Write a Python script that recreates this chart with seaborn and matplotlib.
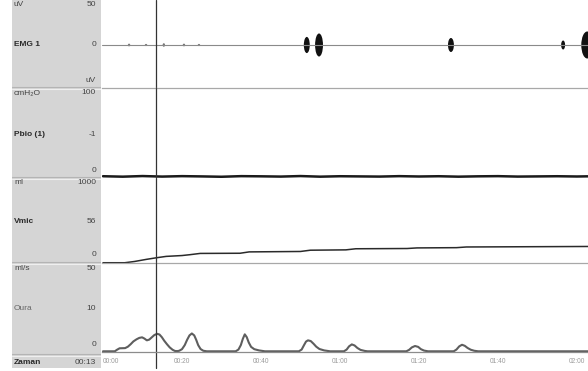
import matplotlib
matplotlib.use("Agg")
import matplotlib.pyplot as plt
from matplotlib.patches import Ellipse
import numpy as np
import seaborn as sns

# ---- recorded channels (time in seconds) ----
cursor_t = 13.4

emg_spike_t = [6.6, 10.9, 15.4, 20.5, 24.3]
emg_spike_amp = [1.5, 1.2, 2.0, 1.5, 1.2]
emg_burst_t = [51.6, 54.7, 88.1, 116.5, 122.6]
emg_burst_amp = [9.0, 12.8, 7.8, 5.0, 15.0]
emg_burst_w = [1.5, 2.0, 1.5, 1.0, 3.0]

pbio_t = [0, 5, 10, 15, 20, 25, 30, 35, 40, 45, 50, 55, 60, 65, 70, 75,
          80, 85, 90, 95, 100, 105, 110, 115, 120, 122.8]
pbio_v = [0.2, -0.3, 0.4, -0.2, 0.3, 0.0, -0.4, 0.3, 0.1, -0.2, 0.4, -0.3,
          0.2, 0.0, -0.2, 0.3, -0.1, 0.2, -0.3, 0.1, 0.3, -0.2, 0.0, 0.2,
          -0.1, 0.1]

vmic_t = [0, 5.5, 8, 11, 13.7, 16, 20, 22, 24.6, 34.7, 37, 50, 52.5, 61.5,
          64, 77, 79.5, 89.5, 92, 122.8]
vmic_v = [0, 0, 15, 40, 60, 75, 85, 95, 110, 112, 128, 133, 148, 152, 165,
          168, 175, 178, 186, 192]

oura_t = [0, 3.0, 3.5, 4.2, 5.6, 6.3, 7.0, 7.7, 8.5, 9.2, 9.9, 10.5, 11.1,
          11.7, 12.3, 13.0, 13.7, 14.3, 14.9, 15.5, 16.2, 16.9, 17.6, 18.2,
          18.8, 19.3, 20.0, 20.7, 21.3, 21.9, 22.5, 23.1, 23.6, 24.1, 24.7,
          25.4, 26.3,
          33.6, 34.3, 34.9, 35.4, 35.9, 36.4, 36.9, 37.5, 38.3, 39.5, 41.0,
          49.6, 50.3, 50.9, 51.4, 51.9, 52.6, 53.3, 54.0, 54.8, 56.0, 57.5,
          61.0, 61.7, 62.3, 63.0, 63.7, 64.4, 65.2, 66.3, 67.0,
          76.8, 77.5, 78.2, 79.0, 79.8, 80.5, 81.3, 82.3,
          88.8, 89.5, 90.2, 90.9, 91.6, 92.3, 93.1, 94.0, 95.0, 122.8]
oura_v = [0, 0, 0.8, 1.7, 1.8, 2.6, 4.0, 5.6, 6.8, 7.6, 7.9, 7.2, 6.2,
          6.6, 7.8, 9.2, 9.9, 9.5, 8.0, 6.0, 4.0, 2.2, 0.9, 0.2,
          0.1, 0.3, 1.2, 3.5, 6.5, 9.0, 10.1, 9.0, 6.5, 3.5, 1.3,
          0.3, 0,
          0, 1.0, 3.5, 7.0, 9.6, 8.0, 5.0, 2.5, 1.2, 0.5, 0,
          0, 1.0, 3.5, 5.5, 6.2, 5.8, 4.3, 2.6, 1.3, 0.5, 0,
          0, 1.0, 2.8, 3.9, 3.3, 1.9, 0.8, 0.2, 0,
          0, 0.8, 2.2, 3.0, 2.5, 1.2, 0.4, 0,
          0, 1.0, 2.8, 3.7, 3.1, 1.9, 0.9, 0.3, 0, 0]

time_ticks = [0, 20, 40, 60, 80, 100, 120]
time_labels = ["00:00", "00:20", "00:40", "01:00", "01:20", "01:40", "02:00"]

channel_names = ["EMG 1", "Pbio (1)", "Vmic", "Oura"]
channel_units = ["uV", "cmH\u2082O", "ml", "ml/s"]
scale_top = ["50", "100", "1000", "50"]
scale_mid = ["0", "-1", "56", "10"]
scale_bot = ["uV", "0", "0", "0"]

# ---- figure layout ----
sns.set_style("white")
plt.rcParams["font.family"] = ["Liberation Sans", "DejaVu Sans"]

W, H = 588, 371
fig = plt.figure(figsize=(W / 100, H / 100), dpi=100)
fig.patch.set_facecolor("white")


def box(x0, y0, x1, y1):
    return [x0 / W, 1 - y1 / H, (x1 - x0) / W, (y1 - y0) / H]


# grey channel-label column
lab = fig.add_axes(box(12, 0, 101, 368))
lab.set_facecolor("#d5d5d5")
lab.set_xlim(12, 101)
lab.set_ylim(368, 0)
lab.set_xticks([])
lab.set_yticks([])
for s in lab.spines.values():
    s.set_visible(False)

rows = [(0, 88), (88, 178), (178, 263), (263, 352)]
for y in [88, 178, 263, 355]:
    lab.axhline(y - 0.6, color="#b4b4b4", lw=0.8)
    lab.axhline(y + 0.6, color="#efefef", lw=0.8)

fs = 6.0
tc = "#2a2a2a"
for i, (top, bot) in enumerate(rows):
    mid = (top + bot) / 2 + 1
    lab.text(14, top + 5, channel_units[i], fontsize=fs, color="#444",
             va="center", ha="left")
    lab.text(96, top + 5, scale_top[i], fontsize=fs, color="#444",
             va="center", ha="right")
    bold = "normal" if channel_names[i] == "Oura" else "bold"
    ccol = "#666" if channel_names[i] == "Oura" else tc
    lab.text(14, mid, channel_names[i], fontsize=fs, color=ccol,
             weight=bold, va="center", ha="left")
    lab.text(96, mid, scale_mid[i], fontsize=fs, color="#444",
             va="center", ha="right")
    lab.text(96, bot - 8, scale_bot[i], fontsize=fs, color="#444",
             va="center", ha="right")

lab.text(14, 362, "Zaman", fontsize=fs, color=tc, weight="bold",
         va="center", ha="left")
lab.text(96, 362, f"00:{int(cursor_t):02d}", fontsize=fs, color="#444",
         va="center", ha="right")

# data panels
xmin, xmax = -0.25, 122.8
axes = []
for top, bot in rows:
    ax = fig.add_axes(box(102, top, 588, bot))
    ax.set_xlim(xmin, xmax)
    ax.set_facecolor("none")
    ax.set_xticks([])
    ax.set_yticks([])
    for s in ax.spines.values():
        s.set_visible(False)
    ax.spines["bottom"].set_visible(True)
    ax.spines["bottom"].set_color("#a8a8a8")
    ax.spines["bottom"].set_linewidth(0.9)
    axes.append(ax)

ax_emg, ax_pbio, ax_vmic, ax_oura = axes

# EMG: baseline with spikes and bursts
ax_emg.set_ylim(-47.8, 50)
ax_emg.axhline(0, color="#8a8a8a", lw=0.8)
for t, a in zip(emg_spike_t, emg_spike_amp):
    ax_emg.add_patch(Ellipse((t, 0), 0.6, 2 * a, color="#777", lw=0))
for t, a, w in zip(emg_burst_t, emg_burst_amp, emg_burst_w):
    ax_emg.add_patch(Ellipse((t, 0), w, 2 * a, color="#111", lw=0))

# Pbio: trace sits on the lower edge of its channel
ax_pbio.set_ylim(-1.8, 100)
ax_pbio.spines["bottom"].set_visible(False)
sns.lineplot(x=pbio_t, y=pbio_v, ax=ax_pbio, color="#1a1a1a", lw=1.8)

# Vmic
ax_vmic.set_ylim(-3, 1000)
sns.lineplot(x=vmic_t, y=vmic_v, ax=ax_vmic, color="#2a2a2a", lw=1.1)

# Oura flow with time axis
ax_oura.set_ylim(-0.4, 50)
sns.lineplot(x=oura_t, y=oura_v, ax=ax_oura, color="#5e5e5e", lw=1.5)
ax_oura.spines["bottom"].set_color("#8c8c8c")
ax_oura.set_xticks(time_ticks)
ax_oura.set_xticklabels(time_labels)
ax_oura.set_xticks(np.arange(0, 123, 5), minor=True)
ax_oura.tick_params(axis="x", which="both", direction="inout", colors="#9a9a9a",
                    labelsize=4.8, labelcolor="#9a9a9a", pad=2.5, width=0.7)
ax_oura.tick_params(axis="x", which="major", length=4)
ax_oura.tick_params(axis="x", which="minor", length=3)
ax_oura.get_xticklabels()[0].set_ha("left")

for ax in axes:
    ax.set_xlabel("")
    ax.set_ylabel("")
    if ax is ax_oura:
        ax.axvline(cursor_t, ymin=-16 / 89, ymax=1, color="#333",
                   lw=0.9, clip_on=False)
    else:
        ax.axvline(cursor_t, color="#333", lw=0.9)

fig.savefig("out.png", dpi=100, facecolor="white")
